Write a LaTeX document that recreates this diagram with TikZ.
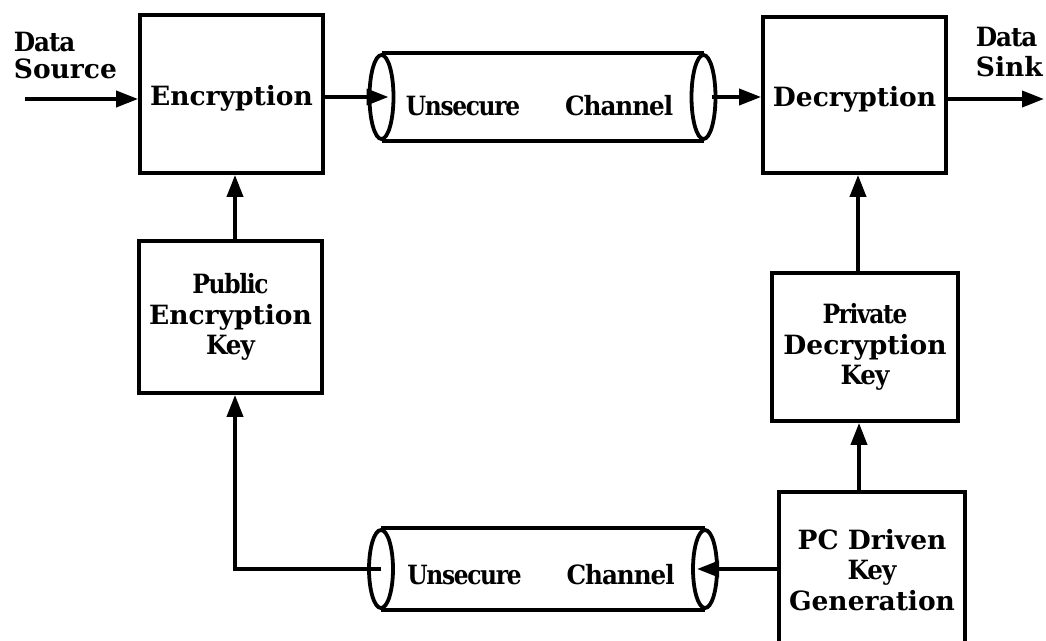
\documentclass[tikz,border=0pt]{standalone}
\usepackage{fontspec}
\setmainfont{DejaVu Serif}
\newfontfamily\fwide{DejaVu Serif}[FakeStretch=1.0]
\newfontfamily\fmed{DejaVu Serif}[FakeStretch=0.93,LetterSpace=-4]
\newfontfamily\fnarrow{DejaVu Serif}[FakeStretch=0.88,LetterSpace=-5]
\newcommand\Wd[1]{{\fwide\bfseries #1}}
\newcommand\Md[1]{{\fmed\bfseries #1}}
\newcommand\Nw[1]{{\fnarrow\bfseries #1}}
\usetikzlibrary{arrows.meta,shapes.geometric}
\begin{document}
\begin{tikzpicture}[x=1pt,y=-1pt,line width=3.8pt,
  box/.style={draw,rectangle,inner sep=0pt,align=center,
    font=\fontsize{26.5}{30.5}\selectfont},
  oneline/.style={text height=23pt,text depth=0pt},
  cylend/.style={draw,ellipse,inner sep=0pt,minimum width=24pt},
  lbl/.style={inner sep=0pt,font=\fontsize{26.5}{28}\selectfont},
  arr/.style={-{Triangle[length=22pt,width=16pt]}}]
\clip (0,0) rectangle (1046,640);

% boxes
\node[box,oneline,minimum width=183pt,minimum height=158pt] (enc) at (231.5,94) {\Wd{Encryption}};
\node[box,oneline,minimum width=183pt,minimum height=156pt] (dec) at (854.5,95) {\Wd{Decryption}};
\node[box,minimum width=183pt,minimum height=152pt] (pub) at (230.5,317) {\Nw{Public}\\\Wd{Encryption}\\\Md{Key}};
\node[box,minimum width=186pt,minimum height=148pt] (priv) at (865,347) {\Nw{Private}\\\Wd{Decryption}\\\Md{Key}};
\node[box,minimum width=186pt,minimum height=156pt] (pcgen) at (872,570) {\Wd{PC Driven}\\\Md{Key}\\\Wd{Generation}};

% upper channel
\node[cylend,minimum height=84pt] (ch1l) at (381.5,97) {};
\node[cylend,minimum height=84pt] (ch1r) at (703.5,97) {};
\draw (ch1l.north) -- (ch1r.north) (ch1l.south) -- (ch1r.south);
\node[lbl,anchor=base] (ch1t) at (539.5,115) {\Nw{Unsecure}\hspace{45pt}\Md{Channel}};

% lower channel
\node[cylend,minimum height=78pt] (ch2l) at (381,569) {};
\node[cylend,minimum height=78pt] (ch2r) at (705,569) {};
\draw (ch2l.north) -- (ch2r.north) (ch2l.south) -- (ch2r.south);
\node[lbl,anchor=base] (ch2t) at (541,584) {\Nw{Unsecure}\hspace{45pt}\Md{Channel}};

% source / sink labels
\node[lbl,anchor=north west,align=left,font=\fontsize{26.5}{27}\selectfont] (srct) at (12,30) {\Md{Data}\\\Wd{Source}};
\node[lbl,anchor=north west,align=left,font=\fontsize{26.5}{30}\selectfont] (snkt) at (974,25) {\Md{Data}\\\Wd{Sink}};
\coordinate (src) at (25,99);
\coordinate (snk) at (1044,99);

% connectors
\draw[arr] (src) -- (src -| enc.west);
\draw[arr] (ch1l.center -| enc.east) -- ([xshift=7pt]ch1l.center);
\draw[arr] ([xshift=8pt]ch1r.center) -- (ch1r.center -| dec.west);
\draw[arr] (snk -| dec.east) -- (snk);
\draw[arr] ([xshift=4.5pt]pub.north) -- ([xshift=4.5pt]pub.north |- enc.south);
\draw[arr] (ch2l.center) -| ([xshift=4.5pt]pub.south);
\draw[arr] (ch2r.center -| pcgen.west) -- ([xshift=-8pt]ch2r.center);
\draw[arr] ([xshift=-13pt]pcgen.north) -- ([xshift=-13pt]pcgen.north |- priv.south);
\draw[arr] ([xshift=-7pt]priv.north) -- ([xshift=-7pt]priv.north |- dec.south);
\end{tikzpicture}
\end{document}
